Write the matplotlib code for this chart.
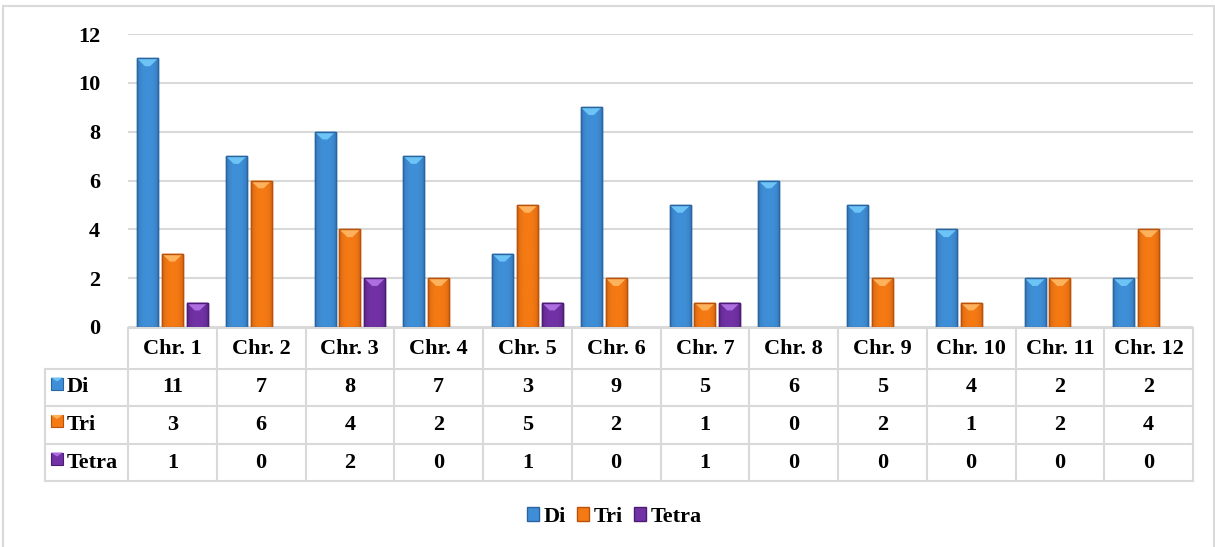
import matplotlib
matplotlib.use("Agg")
from matplotlib import pyplot as plt
from matplotlib.patches import Rectangle, Polygon
from matplotlib.colors import LinearSegmentedColormap
import numpy as np

# datos
cromosomas = ['Chr. 1', 'Chr. 2', 'Chr. 3', 'Chr. 4', 'Chr. 5', 'Chr. 6',
              'Chr. 7', 'Chr. 8', 'Chr. 9', 'Chr. 10', 'Chr. 11', 'Chr. 12']
series = ['Di', 'Tri', 'Tetra']
di = [11, 7, 8, 7, 3, 9, 5, 6, 5, 4, 2, 2]
tri = [3, 6, 4, 2, 5, 2, 1, 0, 2, 1, 2, 4]
tetra = [1, 0, 2, 0, 1, 0, 1, 0, 0, 0, 0, 0]
valores = [di, tri, tetra]

# colores: (borde, principal, brillo)
colores = [('#2b65a0', '#3f8fd8', '#6cc3f5'),
           ('#b9530c', '#f57a14', '#ffb25c'),
           ('#4a1d72', '#7232a6', '#ad6ee0')]

plt.rcParams['font.family'] = ['Liberation Serif', 'DejaVu Serif']
plt.rcParams['font.weight'] = 'bold'
fs = 16

W, H = 1215, 547
fig = plt.figure(figsize=(W / 100, H / 100), dpi=100)

# marco exterior
fig.add_artist(Rectangle((3 / W, -0.05), (W - 4) / W, 1.05 - 6 / H, transform=fig.transFigure,
                         fill=False, edgecolor='#d9d9d9', linewidth=1.5))

x_izq, x_der = 128, 1193
y_cero, y_doce = 327, 34
ax = fig.add_axes([x_izq / W, (H - y_cero) / H, (x_der - x_izq) / W, (y_cero - y_doce) / H])
ax.set_yticks(range(0, 13, 2))
ax.set_xticks([])
ax.tick_params(axis='y', length=0, pad=20, labelsize=fs)
for lbl in ax.get_yticklabels():
    lbl.set_fontweight('bold')
for s in ax.spines.values():
    s.set_visible(False)
ax.grid(axis='y', color='#d9d9d9', linewidth=1.5)
ax.set_axisbelow(True)

ancho = 0.237
paso = 0.28
x = np.arange(len(cromosomas))
gradiente = np.abs(np.linspace(-1, 1, 64))[None, :]
for k, (vals, (c_borde, c_main, c_brillo)) in enumerate(zip(valores, colores)):
    cmap = LinearSegmentedColormap.from_list('g', [c_main, c_borde])
    for xi, v in zip(x, vals):
        if v <= 0:
            continue
        xl = xi + (k - 1) * paso - ancho / 2
        rect = Rectangle((xl, 0), ancho, v, facecolor=c_main, edgecolor=c_borde,
                         linewidth=1.0, zorder=3)
        ax.add_patch(rect)
        im = ax.imshow(0.6 * gradiente ** 3, cmap=cmap, vmin=0, vmax=1, aspect='auto',
                       extent=(xl, xl + ancho, 0, v), zorder=3.5)
        im.set_clip_path(rect)
        prof = 0.32
        tri_top = Polygon([(xl, v), (xl + ancho, v), (xl + ancho * 0.62, v - prof),
                           (xl + ancho * 0.38, v - prof)],
                          closed=True, facecolor=c_brillo, edgecolor='none', zorder=4)
        ax.add_patch(tri_top)
        ax.add_patch(Rectangle((xl, 0), ancho, v, fill=False, edgecolor=c_borde,
                               linewidth=1.0, zorder=5))
ax.set_xlim(-0.5, len(cromosomas) - 0.5)
ax.set_ylim(0, 12)

# tabla de datos
tab = fig.add_axes([0, 0, 1, 1])
tab.set_xlim(0, W)
tab.set_ylim(H, 0)
tab.axis('off')
gris = '#d9d9d9'
col_w = (x_der - x_izq) / len(cromosomas)
filas = [328, 369, 406, 444, 481]
x_lab = 45
tab.plot([x_izq, x_der], [filas[0], filas[0]], color=gris, lw=1.5)
for yf in filas[1:]:
    tab.plot([x_lab, x_der], [yf, yf], color=gris, lw=1.5)
for i in range(len(cromosomas) + 1):
    xc = x_izq + i * col_w
    tab.plot([xc, xc], [filas[0], filas[-1]], color=gris, lw=1.5)
tab.plot([x_lab, x_lab], [filas[1], filas[-1]], color=gris, lw=1.5)

for i, nombre in enumerate(cromosomas):
    xc = x_izq + (i + 0.5) * col_w
    tab.text(xc, (filas[0] + filas[1]) / 2, nombre, ha='center', va='center',
             fontsize=fs, fontweight='bold')
    for r, vals in enumerate(valores):
        tab.text(xc, (filas[r + 1] + filas[r + 2]) / 2, str(vals[i]), ha='center',
                 va='center', fontsize=fs, fontweight='bold')

for r, (nombre, (c_borde, c_main, c_brillo)) in enumerate(zip(series, colores)):
    yc = (filas[r + 1] + filas[r + 2]) / 2
    tab.add_patch(Rectangle((51, yc - 10), 12, 12, facecolor=c_main, edgecolor=c_borde, lw=0.8))
    tab.add_patch(Polygon([(51, yc - 10), (63, yc - 10), (57, yc - 6)], facecolor=c_brillo,
                          edgecolor='none'))
    tab.text(67, yc, nombre, ha='left', va='center', fontsize=fs, fontweight='bold')

# leyenda
handles = [Rectangle((0, 0), 1, 1, facecolor=c[1], edgecolor=c[0]) for c in colores]
fig.legend(handles, series, loc='center', bbox_to_anchor=(614 / W, 1 - 517 / H), ncol=3,
           frameon=False, prop={'size': fs, 'weight': 'bold'}, handlelength=0.55,
           handleheight=0.55, handletextpad=0.2, columnspacing=0.5)

fig.savefig('out.png', dpi=100)
